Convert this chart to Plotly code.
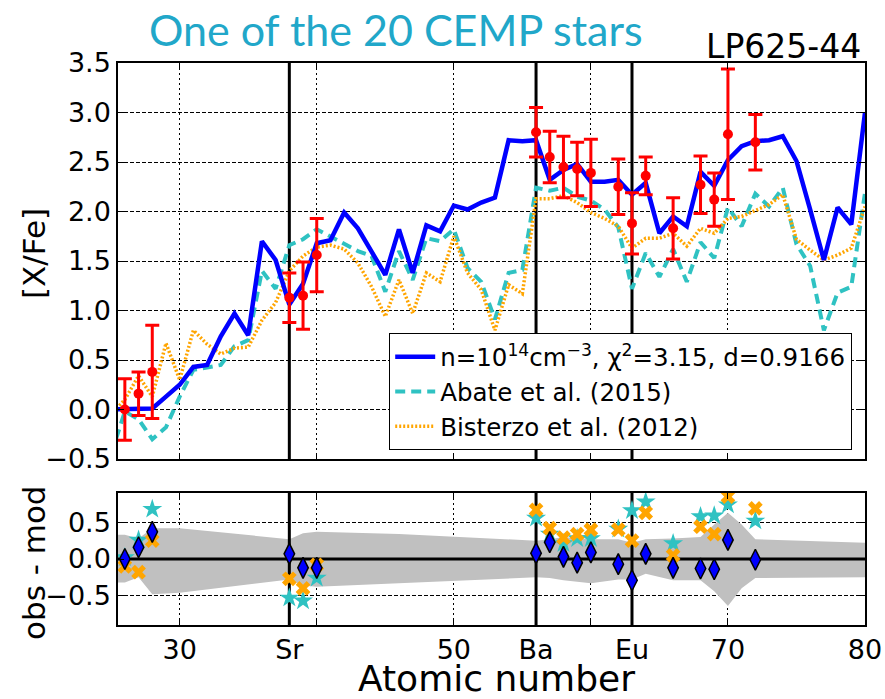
import plotly.graph_objects as go

# ---------------- data ----------------
# Atomic numbers of the model abundance curves
model_z = list(range(25, 81))

# n = 1e14 cm^-3 i-process model
model_n14 = [0.00, 0.00, 0.00, 0.01, 0.13, 0.25, 0.43, 0.45, 0.74, 0.97,
             0.75, 1.70, 1.51, 1.06, 1.27, 1.68, 1.71, 1.99, 1.83, 1.60,
             1.36, 1.82, 1.38, 1.86, 1.80, 2.06, 2.02, 2.09, 2.14, 2.72,
             2.71, 2.72, 2.32, 2.42, 2.48, 2.30, 2.30, 2.32, 2.17, 2.29,
             1.78, 1.95, 1.85, 2.40, 2.26, 2.52, 2.66, 2.71, 2.72, 2.76,
             2.51, 2.02, 1.51, 2.04, 1.87, 3.00]

# Abate et al. (2015)
model_abate = [-0.45, -0.02, -0.10, -0.30, -0.18, 0.13, 0.40, 0.43, 0.45, 0.64,
               0.70, 1.40, 1.22, 1.66, 1.72, 1.82, 1.75, 1.68, 1.60, 1.55,
               1.19, 1.60, 1.31, 1.73, 1.70, 1.82, 1.43, 1.29, 0.91, 1.38,
               1.41, 2.24, 2.21, 2.24, 2.15, 2.11, 2.02, 1.84, 1.22, 1.58,
               1.34, 1.62, 1.29, 1.69, 1.53, 2.04, 1.85, 2.18, 2.05, 2.24,
               1.67, 1.45, 0.80, 1.18, 1.24, 2.19]

# Bisterzo et al. (2012)
model_bisterzo = [-0.05, 0.10, 0.34, 0.13, 0.67, 0.30, 0.80, 0.66, 0.56, 0.62,
                  0.63, 0.90, 1.08, 1.40, 1.55, 1.64, 1.66, 1.62, 1.48, 1.24,
                  0.94, 1.31, 0.97, 1.38, 1.29, 1.75, 1.38, 1.21, 0.80, 1.26,
                  1.17, 2.13, 2.13, 2.16, 2.09, 1.99, 1.93, 1.85, 1.63, 1.73,
                  1.73, 1.78, 1.65, 1.83, 1.78, 1.93, 1.95, 2.01, 2.07, 2.17,
                  1.72, 1.61, 1.51, 1.56, 1.63, 2.05]

# Observed abundances of LP625-44
obs_z = [26, 27, 28, 38, 39, 40, 56, 57, 58, 59, 60, 62, 63, 64, 66, 68, 69, 70, 72]
obs_xfe = [0.00, 0.16, 0.38, 1.13, 1.15, 1.56, 2.80, 2.55, 2.45, 2.43,
           2.39, 2.25, 1.88, 2.36, 1.83, 2.27, 2.12, 2.78, 2.70]
obs_err = [0.31, 0.22, 0.47, 0.25, 0.34, 0.37, 0.25, 0.26, 0.31, 0.27,
           0.34, 0.28, 0.31, 0.19, 0.31, 0.29, 0.27, 0.66, 0.28]

# Uncertainty band of the residual panel
band_z = [25.5, 26, 27, 28, 30, 38, 39, 40, 46, 56, 57, 58, 60, 62,
          63, 64, 66, 68, 69, 70, 71, 72, 80]
band_hi = [0.33, 0.33, 0.28, 0.42, 0.42, 0.27, 0.35, 0.37, 0.34, 0.25, 0.27, 0.30,
           0.27, 0.27, 0.22, 0.27, 0.28, 0.30, 0.47, 0.63, 0.47, 0.27, 0.22]
band_lo = [-0.32, -0.32, -0.25, -0.48, -0.46, -0.28, -0.36, -0.38, -0.33, -0.25, -0.26, -0.29,
           -0.33, -0.28, -0.28, -0.20, -0.29, -0.29, -0.44, -0.64, -0.40, -0.26, -0.25]

# Axes
x_range = [25.5, 80]
main_y_range = [-0.5, 3.5]
res_y_range = [-0.9, 0.9]
tick_vals = [30, 38, 40, 50, 56, 60, 63, 70, 80]
tick_text = ["30", "Sr", "", "50", "Ba", "", "Eu", "70", "80"]
main_y_ticks = [-0.5, 0.0, 0.5, 1.0, 1.5, 2.0, 2.5, 3.0, 3.5]
res_y_ticks = [-0.5, 0.0, 0.5]
peak_z = [38, 56, 63]  # Sr, Ba, Eu

# ---------------- styles ----------------
BLUE = "#0000ff"
CYAN = "#2fc2c2"
ORANGE = "#ffa500"
FONT = "DejaVu Sans"

fig = go.Figure()

# residual panel (x / y)
fig.add_trace(go.Scatter(
    x=band_z + band_z[::-1], y=band_hi + band_lo[::-1],
    fill="toself", fillcolor="#c0c0c0", line=dict(width=0),
    mode="lines", showlegend=False, hoverinfo="skip", xaxis="x", yaxis="y"))
fig.add_trace(go.Scatter(
    x=x_range, y=[0, 0], mode="lines", line=dict(color="black", width=3),
    showlegend=False, hoverinfo="skip", xaxis="x", yaxis="y"))
for z in peak_z:
    fig.add_trace(go.Scatter(
        x=[z, z], y=res_y_range, mode="lines", line=dict(color="black", width=3),
        showlegend=False, hoverinfo="skip", xaxis="x", yaxis="y"))

lookup_n14 = dict(zip(model_z, model_n14))
lookup_abate = dict(zip(model_z, model_abate))
lookup_bist = dict(zip(model_z, model_bisterzo))
res_abate = [o - lookup_abate[z] for z, o in zip(obs_z, obs_xfe)]
res_bist = [o - lookup_bist[z] for z, o in zip(obs_z, obs_xfe)]
res_n14 = [o - lookup_n14[z] for z, o in zip(obs_z, obs_xfe)]

fig.add_trace(go.Scatter(
    x=obs_z, y=res_abate, mode="markers",
    marker=dict(symbol="star", size=15, color=CYAN, line=dict(width=0)),
    showlegend=False, xaxis="x", yaxis="y"))
fig.add_trace(go.Scatter(
    x=obs_z, y=res_bist, mode="markers",
    marker=dict(symbol="x", size=13, color=ORANGE, line=dict(width=0)),
    showlegend=False, xaxis="x", yaxis="y"))
fig.add_trace(go.Scatter(
    x=obs_z, y=res_n14, mode="markers",
    marker=dict(symbol="diamond-tall", size=15, color=BLUE, line=dict(width=1.5, color="black")),
    showlegend=False, xaxis="x", yaxis="y"))

# abundance panel (x2 / y2)
for z in peak_z:
    fig.add_trace(go.Scatter(
        x=[z, z], y=main_y_range, mode="lines", line=dict(color="black", width=3),
        showlegend=False, hoverinfo="skip", xaxis="x2", yaxis="y2"))

fig.add_trace(go.Scatter(
    x=model_z, y=model_abate, mode="lines",
    line=dict(color=CYAN, width=4, dash="10px,6px"),
    name="Abate et al. (2015)", legendrank=2, legendgroup="b",
    xaxis="x2", yaxis="y2"))
fig.add_trace(go.Scatter(
    x=model_z, y=model_bisterzo, mode="lines",
    line=dict(color=ORANGE, width=3.5, dash="2px,2px"),
    name="Bisterzo et al. (2012)", legendrank=3, legendgroup="c",
    xaxis="x2", yaxis="y2"))
fig.add_trace(go.Scatter(
    x=model_z, y=model_n14, mode="lines",
    line=dict(color=BLUE, width=4.5),
    name="n=10<sup>14</sup>cm<sup>−3</sup>, χ<sup>2</sup>=3.15, d=0.9166",
    legendrank=1, legendgroup="a",
    xaxis="x2", yaxis="y2"))
fig.add_trace(go.Scatter(
    x=obs_z, y=obs_xfe, mode="markers",
    marker=dict(color="red", size=10),
    error_y=dict(type="data", array=obs_err, symmetric=True,
                 color="red", thickness=3, width=7),
    showlegend=False, xaxis="x2", yaxis="y2"))

# ---------------- layout ----------------
x_dom = [118 / 885, 865 / 885]
axis_common = dict(
    showline=True, linecolor="black", linewidth=1.5, mirror="allticks",
    ticks="inside", ticklen=6, tickwidth=1.2, tickcolor="black",
    zeroline=False, automargin=False,
    tickfont=dict(family=FONT, size=27, color="black"),
)


def label(text, x, y, size, family=FONT, color="black", angle=0):
    return dict(text=text, x=x / 885, y=1 - y / 699, xref="paper", yref="paper",
                xanchor="center", yanchor="middle", showarrow=False, textangle=angle,
                font=dict(family=family, size=size, color=color))


fig.update_layout(
    width=885, height=699,
    margin=dict(l=0, r=0, t=0, b=0, autoexpand=False),
    paper_bgcolor="white", plot_bgcolor="white",
    font=dict(family=FONT, color="black"),
    xaxis=dict(domain=x_dom, range=x_range, anchor="y",
               tickmode="array", tickvals=tick_vals, ticktext=tick_text,
               showgrid=True, gridcolor="black", gridwidth=1.3, griddash="2px,3px",
               **axis_common),
    yaxis=dict(domain=[1 - 625 / 699, 1 - 493 / 699], range=res_y_range, anchor="x",
               tickmode="array", tickvals=res_y_ticks, tickformat=".1f",
               showgrid=True, gridcolor="black", gridwidth=1.3, griddash="4px,2px",
               **axis_common),
    xaxis2=dict(domain=x_dom, range=x_range, anchor="y2", matches="x",
                tickmode="array", tickvals=tick_vals, showticklabels=False,
                showgrid=True, gridcolor="black", gridwidth=1.3, griddash="2px,3px",
                **axis_common),
    yaxis2=dict(domain=[1 - 459 / 699, 1 - 63 / 699], range=main_y_range, anchor="x2",
                tickmode="array", tickvals=main_y_ticks, tickformat=".1f",
                showgrid=True, gridcolor="black", gridwidth=1.3, griddash="4px,2px",
                **axis_common),
    legend=dict(x=852 / 885, xanchor="right", y=1 - 333 / 699, yanchor="top",
                bgcolor="white", bordercolor="black", borderwidth=1.2,
                font=dict(family=FONT, size=24.5, color="black"),
                tracegroupgap=0, itemwidth=40),
    showlegend=True,
    annotations=[
        label("One of the 20 CEMP stars", 396, 30, 43, family="Lato", color="#21a7c9"),
        label("LP625-44", 783, 46, 33),
        label("Atomic number", 496, 678, 36),
        label("[X/Fe]", 34, 254, 31, angle=-90),
        label("obs - mod", 34, 563, 31, angle=-90),
    ],
)

fig.write_html("out.html")
